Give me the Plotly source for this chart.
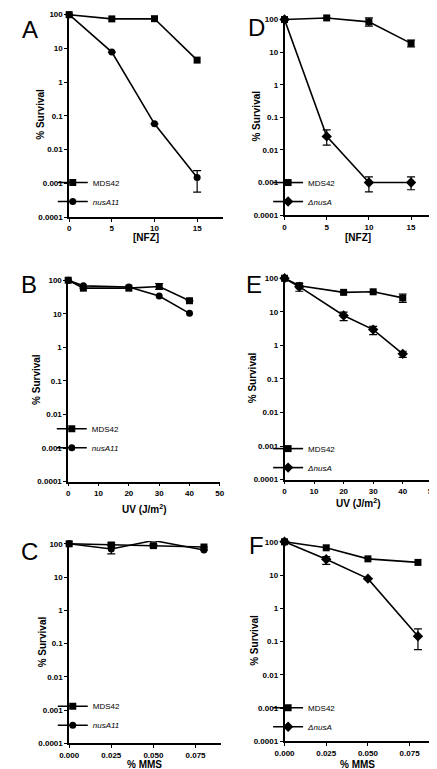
import plotly.graph_objects as go

# ---------------- data ----------------
nfz_dose = [0, 5, 10, 15]
uv_dose = [0, 5, 20, 30, 40]
mms_dose = [0, 0.025, 0.05, 0.08]

# Panel A
A_mds42 = [100, 75, 76, 4.5]
A_nusA11 = [100, 7.8, 0.058, 0.0015]
A_nusA11_errp = [0, 0, 0, 0.0009]
A_nusA11_errm = [0, 0, 0, 0.00095]

# Panel D
D_mds42 = [100, 112, 85, 18.6]
D_mds42_errp = [0, 0, 27, 5]
D_mds42_errm = [0, 0, 22, 4.2]
D_dnusA = [100, 0.026, 0.001, 0.001]
D_dnusA_errp = [0, 0.015, 0.0005, 0.0005]
D_dnusA_errm = [0, 0.012, 0.00048, 0.0004]

# Panel B
B_mds42 = [100, 58, 58, 65, 24.5]
B_mds42_errp = [0, 0, 0, 15, 0]
B_mds42_errm = [0, 0, 0, 12, 0]
B_nusA11 = [100, 68, 63, 34, 10.3]

# Panel E
E_mds42 = [100, 60, 38, 39.5, 26]
E_mds42_errp = [0, 0, 0, 0, 8]
E_mds42_errm = [0, 0, 0, 0, 7]
E_dnusA = [100, 56, 7.8, 2.95, 0.56]
E_dnusA_errp = [0, 14, 2, 0.75, 0.11]
E_dnusA_errm = [0, 15, 2.3, 0.85, 0.12]

# Panel C
C_mds42 = [100, 92, 88, 80]
C_mds42_errp = [0, 15, 10, 0]
C_mds42_errm = [0, 12, 8, 0]
C_nusA11 = [100, 70, 125, 65]
C_nusA11_errp = [0, 20, 0, 0]
C_nusA11_errm = [0, 20, 0, 0]

# Panel F
F_mds42 = [100, 66, 30.7, 24]
F_dnusA = [100, 30, 7.8, 0.145]
F_dnusA_errp = [0, 6, 0, 0.095]
F_dnusA_errm = [0, 9, 0, 0.088]

y_tickvals = [0.0001, 0.001, 0.01, 0.1, 1, 10, 100]
y_ticktext = ["0.0001", "0.001", "0.01", "0.1", "1", "10", "100"]
nfz_ticks = [0, 5, 10, 15]
uv_ticks = [0, 10, 20, 30, 40, 50]
mms_ticks = [0, 0.025, 0.05, 0.075]
mms_ticktext = ["0.000", "0.025", "0.050", "0.075"]

W, H = 437, 769
FONT = "Liberation Sans, Arial, sans-serif"
YTOP = 2.08  # log10 of top of y range


def px2x(p):
    return p / W


def px2y(p):
    return 1 - p / H


fig = go.Figure()

# panel geometry in pixels: (left, right, top, bottom), letter position, x-title y,
# y-title x, legend top offset above the x axis
panels = {
    "A": dict(ax=1, box=(53, 212, 2, 209), xr=[0, 18], xt=nfz_ticks,
              xtt=[str(v) for v in nfz_ticks], xtitle="[NFZ]", xty=230, ytx=23, letter=(2, 4), leg=49.5),
    "D": dict(ax=2, box=(276, 428, 7, 207), xr=[0, 17.4], xt=nfz_ticks,
              xtt=[str(v) for v in nfz_ticks], xtitle="[NFZ]", xty=230, ytx=247, letter=(236, 2), leg=47.5),
    "B": dict(ax=3, box=(52, 209, 270, 476), xr=[0, 50], xt=uv_ticks,
              xtt=[str(v) for v in uv_ticks], xtitle="UV (J/m<sup>2</sup>)", xty=504, ytx=19, letter=(1, 261), leg=68),
    "E": dict(ax=4, box=(276, 429, 268, 474), xr=[0, 50], xt=uv_ticks,
              xtt=[str(v) for v in uv_ticks], xtitle="UV (J/m<sup>2</sup>)", xty=498, ytx=243, letter=(234, 261), leg=46),
    "C": dict(ax=5, box=(53, 210, 536, 740), xr=[0, 0.09], xt=mms_ticks,
              xtt=mms_ticktext, xtitle="% MMS", xty=761, ytx=25, letter=(1, 531), leg=52),
    "F": dict(ax=6, box=(276, 428, 534, 738), xr=[0, 0.088], xt=mms_ticks,
              xtt=mms_ticktext, xtitle="% MMS", xty=761, ytx=245, letter=(237, 525), leg=48.5),
}


def add_series(ax, x, y, name, symbol, size, legend, errp=None, errm=None):
    sfx = "" if ax == 1 else str(ax)
    err = None
    if errp is not None:
        err = dict(type="data", array=errp, arrayminus=errm, visible=True,
                   color="black", thickness=1.2, width=4)
    fig.add_trace(go.Scatter(
        x=x, y=y, name=name, mode="lines+markers",
        line=dict(color="black", width=1.6),
        marker=dict(symbol=symbol, size=size, color="black"),
        error_y=err, xaxis="x" + sfx, yaxis="y" + sfx, legend=legend,
        cliponaxis=False,
    ))


add_series(1, nfz_dose, A_mds42, "MDS42", "square", 7, "legend")
add_series(1, nfz_dose, A_nusA11, "<i>nusA11</i>", "circle", 7, "legend", A_nusA11_errp, A_nusA11_errm)
add_series(2, nfz_dose, D_mds42, "MDS42", "square", 7, "legend2", D_mds42_errp, D_mds42_errm)
add_series(2, nfz_dose, D_dnusA, "<i>\u0394nusA</i>", "diamond", 8, "legend2", D_dnusA_errp, D_dnusA_errm)
add_series(3, uv_dose, B_mds42, "MDS42", "square", 7, "legend3", B_mds42_errp, B_mds42_errm)
add_series(3, uv_dose, B_nusA11, "<i>nusA11</i>", "circle", 7, "legend3")
add_series(4, uv_dose, E_mds42, "MDS42", "square", 7, "legend4", E_mds42_errp, E_mds42_errm)
add_series(4, uv_dose, E_dnusA, "<i>\u0394nusA</i>", "diamond", 8, "legend4", E_dnusA_errp, E_dnusA_errm)
add_series(5, mms_dose, C_mds42, "MDS42", "square", 7, "legend5", C_mds42_errp, C_mds42_errm)
add_series(5, mms_dose, C_nusA11, "<i>nusA11</i>", "circle", 7, "legend5", C_nusA11_errp, C_nusA11_errm)
add_series(6, mms_dose, F_mds42, "MDS42", "square", 7, "legend6")
add_series(6, mms_dose, F_dnusA, "<i>\u0394nusA</i>", "diamond", 8, "legend6", F_dnusA_errp, F_dnusA_errm)

layout = dict(
    width=W, height=H, margin=dict(l=0, r=0, t=0, b=0),
    paper_bgcolor="white", plot_bgcolor="white",
    font=dict(family=FONT, color="black"),
    showlegend=True,
)

annotations = []
for letter, p in panels.items():
    ax = p["ax"]
    sfx = "" if ax == 1 else str(ax)
    l, r, t, b = p["box"]
    layout["xaxis" + sfx] = dict(
        domain=[px2x(l), px2x(r)], range=p["xr"], anchor="y" + sfx,
        tickvals=p["xt"], ticktext=[f"<b>{s}</b>" for s in p["xtt"]],
        ticks="outside", ticklen=3, tickwidth=1.2, tickcolor="black",
        showline=True, linecolor="black", linewidth=1.6, showgrid=False, zeroline=False,
        tickfont=dict(size=8, family=FONT, color="black"),
    )
    layout["yaxis" + sfx] = dict(
        domain=[px2y(b), px2y(t)], type="log", range=[-4, YTOP], anchor="x" + sfx,
        tickvals=y_tickvals, ticktext=[f"<b>{s}</b>" for s in y_ticktext],
        ticks="outside", ticklen=3, tickwidth=1.2, tickcolor="black",
        showline=True, linecolor="black", linewidth=1.6, showgrid=False, zeroline=False,
        tickfont=dict(size=8, family=FONT, color="black"),
    )
    # legend placement
    lname = "legend" if ax == 1 else "legend" + str(ax)
    layout[lname] = dict(
        x=px2x(l - 17), y=px2y(b - p["leg"]), xanchor="left", yanchor="top",
        bgcolor="rgba(0,0,0,0)", font=dict(size=8, family=FONT, color="black"),
        itemwidth=30, tracegroupgap=0, itemclick=False,
    )
    # panel letter
    lx, ly = p["letter"]
    annotations.append(dict(
        text=letter, x=px2x(lx), y=px2y(ly), xref="paper", yref="paper",
        xanchor="left", yanchor="top", showarrow=False,
        font=dict(size=24, family=FONT, color="black"),
    ))
    # y title
    ycen_px = (t + b) / 2
    annotations.append(dict(
        text="<b>% Survival</b>", x=px2x(p["ytx"]), y=px2y(ycen_px), xref="paper", yref="paper",
        xanchor="center", yanchor="middle", showarrow=False, textangle=-90,
        font=dict(size=10, family=FONT, color="black"),
    ))
    # x title
    annotations.append(dict(
        text=f"<b>{p['xtitle']}</b>", x=px2x((l + r) / 2), y=px2y(p["xty"]), xref="paper", yref="paper",
        xanchor="center", yanchor="middle", showarrow=False,
        font=dict(size=10, family=FONT, color="black"),
    ))

layout["annotations"] = annotations
fig.update_layout(**layout)
fig.write_html("out.html")
